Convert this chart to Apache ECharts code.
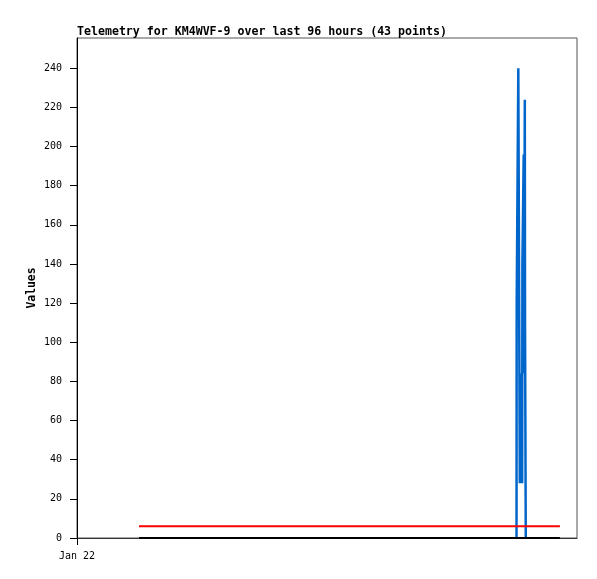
<!DOCTYPE html>
<html><head><meta charset="utf-8">
<script src="https://cdn.jsdelivr.net/npm/echarts@6/dist/echarts.min.js"></script>
<style>html,body{margin:0;padding:0;background:#fff}#c{width:597px;height:579px}</style>
</head><body><div id="c"></div>
<script>
// x values are hours since Jan 22 00:00
const titleText = 'Telemetry for KM4WVF-9 over last 96 hours (43 points)';
const yAxisName = 'Values';
const xTickValues = [0];
const xTickLabels = ['Jan 22'];
const yTickValues = [0, 20, 40, 60, 80, 100, 120, 140, 160, 180, 200, 220, 240];

const blueX = [100.21, 100.25, 100.58, 100.62, 100.92, 100.96, 101.2, 101.5, 101.55, 101.85, 101.9, 102.1, 102.15, 102.3, 102.32];
const blueY = [0, 120, 120, 240, 240, 28, 84, 28, 140, 196, 84, 224, 112, 112, 0];
const redX = [14.14, 110.1];
const redY = [6, 6];
const blackX = [14.14, 110.1];
const blackY = [0, 0];

const pairs = (xs, ys) => xs.map((x, i) => [x, ys[i]]);
const font = 'DejaVu Sans Mono';

const chart = echarts.init(document.getElementById('c'), null, {renderer: 'canvas'});
chart.setOption({
  animation: false,
  backgroundColor: '#ffffff',
  title: {
    text: titleText, left: 72, top: 21,
    textStyle: {fontFamily: font, fontSize: 11.6, fontWeight: 'bold', color: '#000'}
  },
  graphic: [{
    type: 'text', x: 32, y: 288, rotation: Math.PI / 2,
    style: {text: yAxisName, align: 'center', verticalAlign: 'middle', fill: '#000',
      font: 'bold 11.4px "DejaVu Sans Mono"'}
  }],
  grid: {left: 77, right: 20, top: 38, bottom: 41, show: true, borderColor: '#555', borderWidth: 1, backgroundColor: 'transparent'},
  xAxis: {
    type: 'value', min: 0, max: 114,
    axisLine: {show: true, onZero: false, lineStyle: {color: '#333', width: 1}},
    axisTick: {show: true, customValues: xTickValues, length: 7, inside: false, lineStyle: {color: '#000'}},
    axisLabel: {customValues: xTickValues, formatter: v => xTickLabels[xTickValues.indexOf(v)] || '', fontFamily: font, fontSize: 10, color: '#000', margin: 13},
    splitLine: {show: false}
  },
  yAxis: {
    type: 'value', min: 0, max: 255.5,
    axisLine: {show: true, lineStyle: {color: '#000', width: 1}},
    axisTick: {show: true, customValues: yTickValues, length: 7, lineStyle: {color: '#000'}},
    axisLabel: {customValues: yTickValues, fontFamily: font, fontSize: 10, color: '#000', margin: 15},
    splitLine: {show: false}
  },
  series: [
    {type: 'line', data: pairs(blueX, blueY), showSymbol: false, lineStyle: {color: '#0066cc', width: 2.5}, z: 2},
    {type: 'line', data: pairs(redX, redY), showSymbol: false, lineStyle: {color: '#ff0000', width: 2}, z: 3},
    {type: 'line', data: pairs(blackX, blackY), showSymbol: false, lineStyle: {color: '#000000', width: 2}, z: 4}
  ]
});
</script></body></html>
